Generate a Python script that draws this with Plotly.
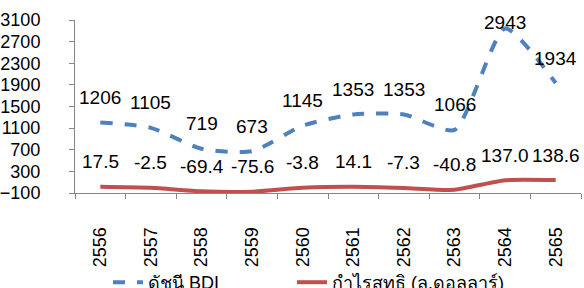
import plotly.graph_objects as go

years = ["2556", "2557", "2558", "2559", "2560", "2561", "2562", "2563", "2564", "2565"]
bdi = [1206, 1105, 719, 673, 1145, 1353, 1353, 1066, 2943, 1934]
profit = [17.5, -2.5, -69.4, -75.6, -3.8, 14.1, -7.3, -40.8, 137.0, 138.6]
bdi_labels = ["1206", "1105", "719", "673", "1145", "1353", "1353", "1066", "2943", "1934"]
profit_labels = ["17.5", "-2.5", "-69.4", "-75.6", "-3.8", "14.1", "-7.3", "-40.8", "137.0", "138.6"]

W, H = 584, 288
mt, mb, ml, mr = 20, 95, 75, 3
ymin, ymax = -100, 3100
plot_h = H - mt - mb
plot_w = W - ml - mr
FONT = "Liberation Sans, Arial, sans-serif"

fig = go.Figure()
fig.add_trace(go.Scatter(x=years, y=bdi, mode="lines", name="ดัชนี BDI", legend="legend",
                         line=dict(color="#4F81BD", width=4, dash="dash", shape="spline", smoothing=0.6)))
fig.add_trace(go.Scatter(x=years, y=profit, mode="lines", name="กำไรสุทธิ (ล.ดอลลาร์)", legend="legend2",
                         line=dict(color="#C0504D", width=4, shape="spline", smoothing=0.6)))

annotations = []
for vals, labels in ((bdi, bdi_labels), (profit, profit_labels)):
    for i, (v, t) in enumerate(zip(vals, labels)):
        px = (ymax - v) / (ymax - ymin) * plot_h
        center = max(px - 25, 2)
        annotations.append(dict(x=i, y=v, text=t, showarrow=False, yshift=px - center,
                                xref="x", yref="y", font=dict(size=19, color="black", family=FONT)))

leg_y = (H - mb - 264) / plot_h
leg_common = dict(orientation="h", yanchor="top", y=leg_y, xanchor="left",
                  font=dict(size=18, family=FONT, color="black"), bgcolor="rgba(0,0,0,0)")

fig.update_layout(
    width=W, height=H, margin=dict(l=ml, r=mr, t=mt, b=mb, autoexpand=False),
    paper_bgcolor="white", plot_bgcolor="white",
    font=dict(family=FONT, size=18, color="black"),
    showlegend=True,
    legend=dict(x=(108 - ml) / plot_w, **leg_common),
    legend2=dict(x=(292 - ml) / plot_w, **leg_common),
    annotations=annotations,
    xaxis=dict(type="category", range=[-0.5, len(years) - 0.5], tickangle=-90, showline=True,
               linecolor="#868686", linewidth=1, ticks="outside", tickson="boundaries", ticklen=5,
               tickcolor="#868686", showgrid=False, zeroline=False, tickfont=dict(size=18),
               ticklabelstandoff=26, automargin=False),
    yaxis=dict(range=[ymin, ymax], dtick=400, tick0=-100, showline=True, linecolor="#868686",
               linewidth=1, ticks="outside", ticklen=5, tickcolor="#868686",
               showgrid=False, zeroline=False, tickfont=dict(size=18), ticklabelstandoff=25,
               automargin=False),
)
fig.write_html("out.html", config={"displayModeBar": False},
               post_script="document.body.style.margin='0';document.body.style.overflow='hidden';")
